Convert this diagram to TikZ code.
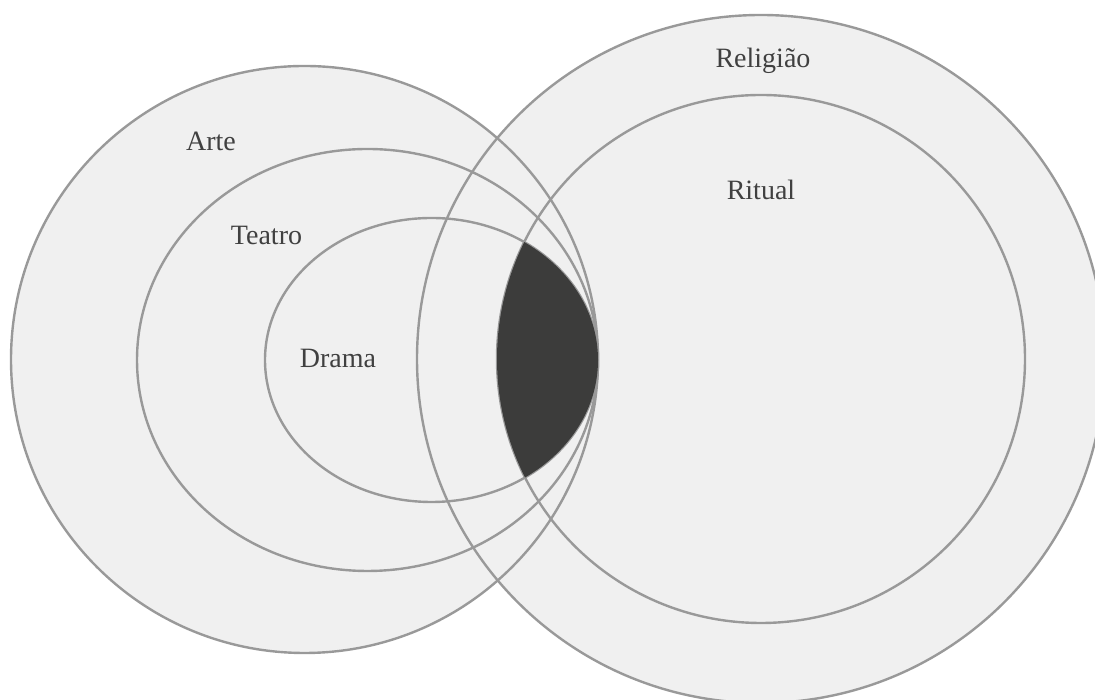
\documentclass[tikz,border=0pt]{standalone}
\usepackage{fontspec}
\setmainfont{Liberation Serif}
\definecolor{setfill}{HTML}{F0F0F0}
\definecolor{setline}{HTML}{999999}
\definecolor{lensfill}{HTML}{3C3C3B}
\definecolor{labeltext}{HTML}{404040}

\begin{document}
\begin{tikzpicture}[x=1pt, y=1pt, font=\fontsize{28}{34}\selectfont,
  setname/.style={anchor=base, text=labeltext, inner sep=0pt},
  setring/.style={draw=setline, line width=2.4pt}]
  \useasboundingbox (0,0) rectangle (1095,700);
  \clip (0,0) rectangle (1095,700);

  % backgrounds of the two outer sets
  \fill[setfill] (304.5,340.5) circle[radius=293.5pt];
  \fill[setfill] (761,341) circle[radius=344pt];

  % outlines
  \draw[setring] (304.5,340.5) circle[radius=293.5pt];
  \draw[setring] (367.5,340) ellipse[x radius=230.5pt, y radius=211pt];
  \draw[setring] (431.5,340) ellipse[x radius=166.5pt, y radius=142pt];
  \draw[setring] (761,341) circle[radius=344pt];
  \draw[setring] (761,341) circle[radius=264pt];

  % Drama and Ritual overlap
  \begin{scope}
    \clip (431.5,340) ellipse[x radius=166.5pt, y radius=142pt];
    \fill[lensfill] (761,341) circle[radius=264pt];
  \end{scope}

  \node[setname] (arte) at (211,549) {Arte};
  \node[setname] (teatro) at (266.5,455) {Teatro};
  \node[setname] (drama) at (338,332) {Drama};
  \node[setname] (religiao) at (763,632) {Religião};
  \node[setname] (ritual) at (761,500) {Ritual};
\end{tikzpicture}
\end{document}
